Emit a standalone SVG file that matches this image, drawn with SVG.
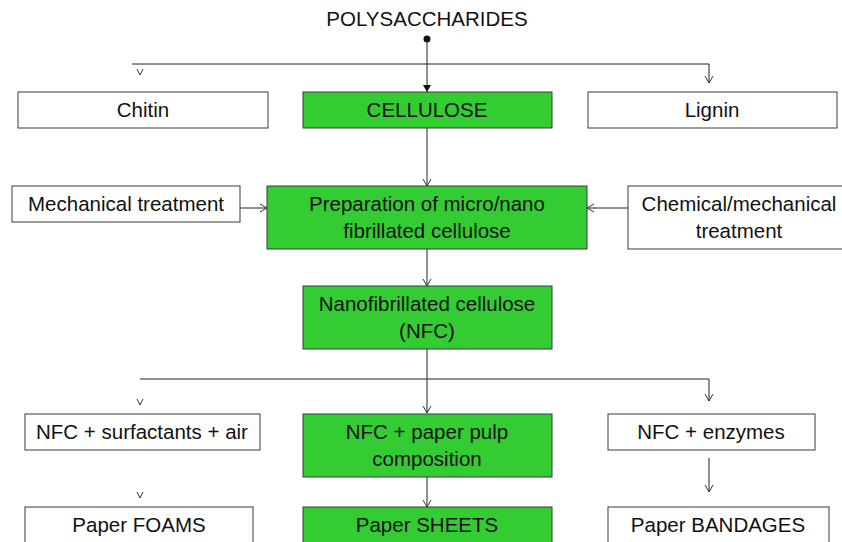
<svg xmlns="http://www.w3.org/2000/svg" width="842" height="542" viewBox="0 0 842 542">
<style>
.box{fill:#fff;stroke:#3a3a3a;stroke-width:1}
.g{fill:#33cc33;stroke:#3a3a3a;stroke-width:1}
text{font-family:"Liberation Sans",Arial,sans-serif;font-size:20.5px;fill:#111;text-anchor:middle}
.ln{fill:none;stroke:#222;stroke-width:1}
.hd{fill:none;stroke:#333;stroke-width:1}
</style>
<defs>
<marker id="open" markerWidth="10" markerHeight="10" refX="9" refY="5" orient="auto" markerUnits="userSpaceOnUse" viewBox="0 0 10 10">
<path d="M2,1 L9,5 L2,9" fill="none" stroke="#333" stroke-width="1"/>
</marker>
<marker id="fill" markerWidth="10" markerHeight="10" refX="9" refY="5" orient="auto" markerUnits="userSpaceOnUse" viewBox="0 0 10 10">
<path d="M2,1 L9,5 L2,9 Z" fill="#111"/>
</marker>
</defs>
<g id="connectors">
<circle cx="427" cy="39" r="3.5" fill="#111"/>
<line class="ln" x1="427" y1="39" x2="427" y2="92" marker-end="url(#fill)"/>
<polyline class="ln" points="132,64 709,64 709,83" marker-end="url(#open)"/>
<path class="hd" d="M137,69 L140,75 L143,69"/>
<line class="ln" x1="427" y1="128" x2="427" y2="186" marker-end="url(#open)"/>
<line class="ln" x1="240" y1="208" x2="267" y2="208" marker-end="url(#open)"/>
<line class="ln" x1="628" y1="208" x2="587" y2="208" marker-end="url(#open)"/>
<line class="ln" x1="427" y1="249" x2="427" y2="286" marker-end="url(#open)"/>
<line class="ln" x1="427" y1="349" x2="427" y2="413" marker-end="url(#open)"/>
<polyline class="ln" points="140,379 709,379 709,401" marker-end="url(#open)"/>
<path class="hd" d="M137,399 L140,405 L143,399"/>
<path class="hd" d="M137,492 L140,498 L143,492"/>
<line class="ln" x1="427" y1="477" x2="427" y2="507" marker-end="url(#open)"/>
<line class="ln" x1="709" y1="458" x2="709" y2="492" marker-end="url(#open)"/>
</g>
<g id="title"><text x="427" y="26">POLYSACCHARIDES</text></g>
<g id="chitin"><rect class="box" x="18" y="92" width="250" height="36"/><text x="143" y="117">Chitin</text></g>
<g id="cellulose"><rect class="g" x="303" y="92" width="249" height="36"/><text x="427" y="117">CELLULOSE</text></g>
<g id="lignin"><rect class="box" x="588" y="92" width="249" height="36"/><text x="712" y="117">Lignin</text></g>
<g id="mechanical"><rect class="box" x="12" y="186" width="228" height="36"/><text x="126" y="211">Mechanical treatment</text></g>
<g id="preparation"><rect class="g" x="267" y="186" width="320" height="63"/><text x="427" y="211">Preparation of micro/nano</text><text x="427" y="238">fibrillated cellulose</text></g>
<g id="chemical"><rect class="box" x="628" y="186" width="220" height="63"/><text x="739" y="211">Chemical/mechanical</text><text x="739" y="238">treatment</text></g>
<g id="nfc"><rect class="g" x="303" y="286" width="249" height="63"/><text x="427" y="311">Nanofibrillated cellulose</text><text x="427" y="338">(NFC)</text></g>
<g id="surfactants"><rect class="box" x="25" y="414" width="235" height="36"/><text x="142" y="439">NFC + surfactants + air</text></g>
<g id="pulp"><rect class="g" x="303" y="414" width="249" height="63"/><text x="427" y="439">NFC + paper pulp</text><text x="427" y="466">composition</text></g>
<g id="enzymes"><rect class="box" x="608" y="414" width="207" height="36"/><text x="711" y="439">NFC + enzymes</text></g>
<g id="foams"><rect class="box" x="25" y="507" width="228" height="40"/><text x="139" y="532">Paper FOAMS</text></g>
<g id="sheets"><rect class="g" x="303" y="507" width="249" height="40"/><text x="427" y="532">Paper SHEETS</text></g>
<g id="bandages"><rect class="box" x="608" y="507" width="221" height="40"/><text x="718" y="532">Paper BANDAGES</text></g>
</svg>
